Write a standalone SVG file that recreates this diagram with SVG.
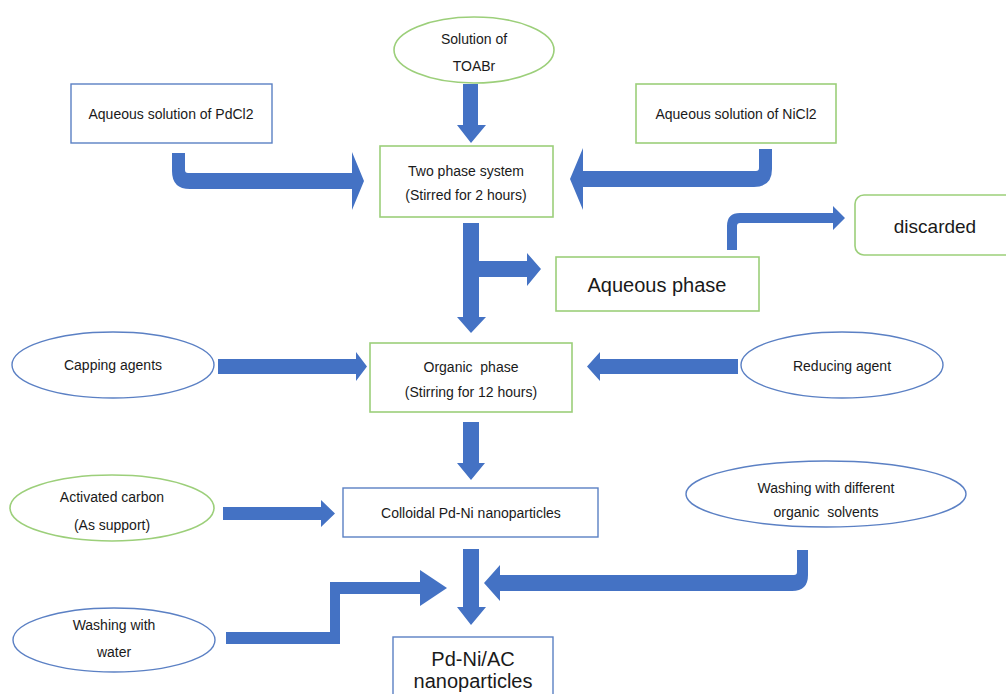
<svg xmlns="http://www.w3.org/2000/svg" width="1006" height="694" viewBox="0 0 1006 694">
<style>
.bg{fill:#ffffff}
.g{fill:#ffffff;stroke:#9ccf7a;stroke-width:1.6}
.b{fill:#ffffff;stroke:#5b80c4;stroke-width:1.4}
.a{fill:#4472c4;stroke:none}
text{font-family:"Liberation Sans",Arial,sans-serif;fill:#1a1a1a;text-anchor:middle;font-size:14px}
.l{font-size:20px}
</style>
<rect class="bg" x="0" y="0" width="1006" height="694"/>
<g id="connectors">
<polygon class="a" points="463,84 478,84 478,125 486,125 471,143 457,125 463,125"/>
<path class="a" d="M172,153 L185,153 L185,170 Q185,173 188,173 L352,173 L352,152 L364,181 L352,210 L352,189 L190,189 Q172,189 172,171 Z"/>
<path class="a" d="M772,149 L759,149 L759,168 Q759,171 756,171 L583,171 L583,148 L570,179 L583,210 L583,187 L754,187 Q772,187 772,169 Z"/>
<path class="a" d="M463,223 L479,223 L479,261 L527,261 L527,253 L541,269 L527,286 L527,277 L479,277 L479,317 L486,317 L471,333 L457,317 L463,317 Z"/>
<path class="a" d="M727,250 L727,226 Q727,213 740,213 L833,213 L833,206 L845,218 L833,230 L833,223 L740,223 Q737,223 737,226 L737,250 Z"/>
<polygon class="a" points="218,359 356,359 356,352 367,366.5 356,381 356,374 218,374"/>
<polygon class="a" points="738,359 600,359 600,352 587,366.5 600,381 600,374 738,374"/>
<polygon class="a" points="463,422 479,422 479,463 485,463 471,480 457,463 463,463"/>
<polygon class="a" points="223,507 321,507 321,500 335,513.5 321,527 321,520 223,520"/>
<polygon class="a" points="463,549 479,549 479,607 486,607 471,625 457,607 463,607"/>
<path class="a" d="M808,550 L797,550 L797,572 Q797,575 794,575 L500,575 L500,565 L484,583 L500,601 L500,591 L792,591 Q808,591 808,575 Z"/>
<path class="a" d="M226,632 L330,632 L330,582 L420,582 L420,570 L447,588 L420,606 L420,594 L340,594 L340,644 L226,644 Z"/>
</g>
<g id="toabr">
<ellipse class="g" cx="474" cy="50" rx="80" ry="33"/>
<text x="474" y="44">Solution of</text>
<text x="474" y="71">TOABr</text>
</g>
<g id="pdcl2">
<rect class="b" x="71" y="84" width="201" height="59"/>
<text x="171" y="119">Aqueous solution of PdCl2</text>
</g>
<g id="nicl2">
<rect class="g" x="636" y="84" width="200" height="59"/>
<text x="736" y="119">Aqueous solution of NiCl2</text>
</g>
<g id="twophase">
<rect class="g" x="380" y="146" width="173" height="71"/>
<text x="466" y="176">Two phase system</text>
<text x="466" y="200">(Stirred for 2 hours)</text>
</g>
<g id="aqueous">
<rect class="g" x="556" y="257" width="203" height="54"/>
<text class="l" x="657" y="292">Aqueous phase</text>
</g>
<g id="discarded">
<rect class="g" x="855" y="195" width="170" height="60" rx="9"/>
<text x="935" y="233" style="font-size:19px">discarded</text>
</g>
<g id="capping">
<ellipse class="b" cx="113" cy="365" rx="101" ry="33"/>
<text x="113" y="370">Capping agents</text>
</g>
<g id="organic">
<rect class="g" x="370" y="343" width="202" height="69"/>
<text x="471" y="372">Organic&#160; phase</text>
<text x="471" y="397">(Stirring for 12 hours)</text>
</g>
<g id="reducing">
<ellipse class="b" cx="842" cy="365" rx="101" ry="33"/>
<text x="842" y="371">Reducing agent</text>
</g>
<g id="activated">
<ellipse class="g" cx="112" cy="508" rx="102" ry="33"/>
<text x="112" y="502">Activated carbon</text>
<text x="112" y="530">(As support)</text>
</g>
<g id="colloidal">
<rect class="b" x="343" y="488" width="255" height="49"/>
<text x="471" y="518">Colloidal Pd-Ni nanoparticles</text>
</g>
<g id="washorganic">
<ellipse class="b" cx="826" cy="494" rx="140" ry="33"/>
<text x="826" y="493">Washing with different</text>
<text x="826" y="517">organic&#160; solvents</text>
</g>
<g id="washwater">
<ellipse class="b" cx="114" cy="640" rx="101" ry="32"/>
<text x="114" y="630">Washing with</text>
<text x="114" y="657">water</text>
</g>
<g id="final">
<rect class="b" x="393" y="637" width="160" height="70"/>
<text class="l" x="473" y="666">Pd-Ni/AC</text>
<text class="l" x="473" y="688">nanoparticles</text>
</g>
</svg>
